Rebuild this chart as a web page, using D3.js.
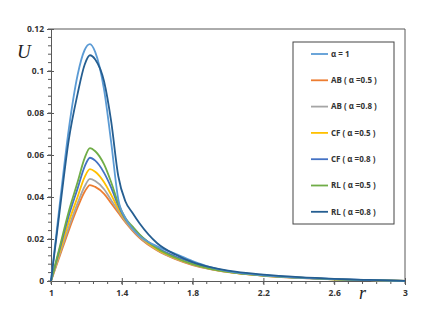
<!DOCTYPE html>
<html>
<head>
<meta charset="utf-8">
<script src="https://cdn.jsdelivr.net/npm/d3@7"></script>
<style>
  body { margin: 0; background: #fff; }
  svg text { font-family: "Open Sans", "Liberation Sans", sans-serif; }
  svg text.title { font-family: "Liberation Serif", "DejaVu Serif", serif; font-style: italic; }
</style>
</head>
<body>
<div id="chart"></div>
<script>
// r grid shared by every series
const rValues = [1, 1.05, 1.1, 1.15, 1.19, 1.22, 1.25, 1.3, 1.34, 1.38, 1.42, 1.46, 1.5, 1.6, 1.7, 1.8, 1.9, 2.0, 2.2, 2.4, 2.6, 2.8, 3.0];

const alpha1 = [0, 0.037, 0.072, 0.098, 0.110, 0.1128, 0.109, 0.091, 0.066, 0.039, 0.030, 0.025, 0.0215, 0.0165, 0.013, 0.0095, 0.0066, 0.0047, 0.0027, 0.0016, 0.0009, 0.0004, 0.0001];
const ab05 = [0, 0.012, 0.024, 0.035, 0.0425, 0.0457, 0.0448, 0.0415, 0.037, 0.0325, 0.028, 0.024, 0.0205, 0.0145, 0.0105, 0.0076, 0.0056, 0.0042, 0.0025, 0.0015, 0.0008, 0.0004, 0.0001];
const ab08 = [0, 0.013, 0.0255, 0.037, 0.045, 0.0486, 0.0476, 0.0437, 0.0385, 0.0335, 0.0285, 0.0245, 0.021, 0.0148, 0.0107, 0.0078, 0.0057, 0.0043, 0.0026, 0.0015, 0.0008, 0.0004, 0.0001];
const cf05 = [0, 0.014, 0.028, 0.040, 0.0495, 0.0533, 0.052, 0.047, 0.041, 0.0345, 0.029, 0.025, 0.0215, 0.015, 0.011, 0.008, 0.0058, 0.0044, 0.0026, 0.0016, 0.0008, 0.0004, 0.0001];
const cf08 = [0, 0.0155, 0.031, 0.044, 0.0545, 0.0587, 0.0573, 0.0515, 0.0445, 0.036, 0.0295, 0.0255, 0.022, 0.0158, 0.0118, 0.0088, 0.0062, 0.0046, 0.0027, 0.0016, 0.0009, 0.0004, 0.0001];
const rl05 = [0, 0.0165, 0.033, 0.047, 0.0585, 0.0633, 0.0618, 0.0555, 0.047, 0.037, 0.030, 0.026, 0.0222, 0.0155, 0.0112, 0.008, 0.0058, 0.0044, 0.0026, 0.0016, 0.0008, 0.0004, 0.0001];
const rl08 = [0, 0.034, 0.067, 0.089, 0.103, 0.1075, 0.1055, 0.095, 0.076, 0.050, 0.038, 0.0325, 0.0275, 0.018, 0.0127, 0.009, 0.0066, 0.0049, 0.003, 0.0018, 0.001, 0.0005, 0.0001];

const seriesNames = ['α = 1', 'AB ( α =0.5 )', 'AB ( α =0.8 )', 'CF ( α =0.5 )', 'CF ( α =0.8 )', 'RL ( α =0.5 )', 'RL ( α =0.8 )'];
const seriesValues = [alpha1, ab05, ab08, cf05, cf08, rl05, rl08];
const seriesColors = ['#5b9bd5', '#ed7d31', '#a5a5a5', '#ffc000', '#4472c4', '#70ad47', '#255e91'];
// draw order: small curves first, big ones on top
const drawOrder = [1, 2, 3, 4, 5, 0, 6];

const xTicks = [1, 1.4, 1.8, 2.2, 2.6, 3];
const yTicks = [0, 0.02, 0.04, 0.06, 0.08, 0.1, 0.12];

const width = 445, height = 314;
const margin = { top: 29, right: 40, bottom: 33, left: 51 };

const svg = d3.select('#chart')
    .append('svg')
    .attr('width', width)
    .attr('height', height);

const x = d3.scaleLinear().domain([1, 3]).range([margin.left, width - margin.right]);
const y = d3.scaleLinear().domain([0, 0.12]).range([height - margin.bottom, margin.top]);

const axisColor = '#595959';

// frame (top and right)
svg.append('path')
    .attr('d', `M${x(1)},${y(0.12)}H${x(3)}V${y(0)}`)
    .attr('fill', 'none')
    .attr('stroke', axisColor)
    .attr('stroke-width', 1);

// minor ticks
const yMinor = d3.range(0, 0.1201, 0.004);
svg.append('g')
    .selectAll('line')
    .data(yMinor)
    .enter().append('line')
    .attr('x1', x(1) - 3).attr('x2', x(1))
    .attr('y1', d => y(d)).attr('y2', d => y(d))
    .attr('stroke', axisColor);

const xMinor = d3.range(1, 3.001, 0.08);
svg.append('g')
    .selectAll('line')
    .data(xMinor)
    .enter().append('line')
    .attr('x1', d => x(d)).attr('x2', d => x(d))
    .attr('y1', y(0)).attr('y2', y(0) + 3)
    .attr('stroke', axisColor);

// y axis
const yAxis = svg.append('g')
    .attr('transform', `translate(${x(1)},0)`)
    .call(d3.axisLeft(y).tickValues(yTicks).tickSize(4).tickFormat(d => String(+d.toFixed(2))));
yAxis.select('.domain').attr('stroke', axisColor);
yAxis.selectAll('.tick line').attr('stroke', axisColor).attr('x2', 3).attr('x1', -4);
yAxis.selectAll('.tick text')
    .attr('x', -7)
    .attr('fill', '#333')
    .attr('font-size', 8.5)
    .attr('font-weight', 'bold');

// x axis
const xAxis = svg.append('g')
    .attr('transform', `translate(0,${y(0)})`)
    .call(d3.axisBottom(x).tickValues(xTicks).tickSize(4).tickFormat(d => String(+d.toFixed(1))));
xAxis.select('.domain').attr('stroke', axisColor);
xAxis.selectAll('.tick line').attr('stroke', axisColor).attr('y1', -3).attr('y2', 4);
xAxis.selectAll('.tick text')
    .attr('y', 9)
    .attr('fill', '#333')
    .attr('font-size', 8.5)
    .attr('font-weight', 'bold');

// axis titles
svg.append('text')
    .attr('class', 'title')
    .attr('x', 17).attr('y', 58)
    .attr('font-size', 19)
    .attr('fill', '#222')
    .text('U');

svg.append('text')
    .attr('class', 'title')
    .attr('x', 359).attr('y', 299)
    .attr('font-size', 18)
    .attr('fill', '#222')
    .text('r');

// curves
const line = d3.line()
    .x((d, i) => x(rValues[i]))
    .y(d => y(d))
    .curve(d3.curveMonotoneX);

svg.append('g')
    .selectAll('path')
    .data(drawOrder)
    .enter().append('path')
    .attr('d', i => line(seriesValues[i]))
    .attr('fill', 'none')
    .attr('stroke', i => seriesColors[i])
    .attr('stroke-width', 1.8);

// legend
const legend = svg.append('g').attr('transform', 'translate(293,42)');
legend.append('rect')
    .attr('width', 101).attr('height', 182)
    .attr('fill', '#fff')
    .attr('stroke', '#444')
    .attr('stroke-width', 1);

const item = legend.selectAll('g.item')
    .data(seriesNames)
    .enter().append('g')
    .attr('class', 'item')
    .attr('transform', (d, i) => `translate(0,${12 + i * 26.3})`);

item.append('line')
    .attr('x1', 18).attr('x2', 35)
    .attr('stroke', (d, i) => seriesColors[i])
    .attr('stroke-width', 1.8);

item.append('text')
    .attr('x', 38)
    .attr('dy', '0.35em')
    .attr('font-size', 8)
    .attr('font-weight', 'bold')
    .attr('fill', '#333')
    .text(d => d);
</script>
</body>
</html>
